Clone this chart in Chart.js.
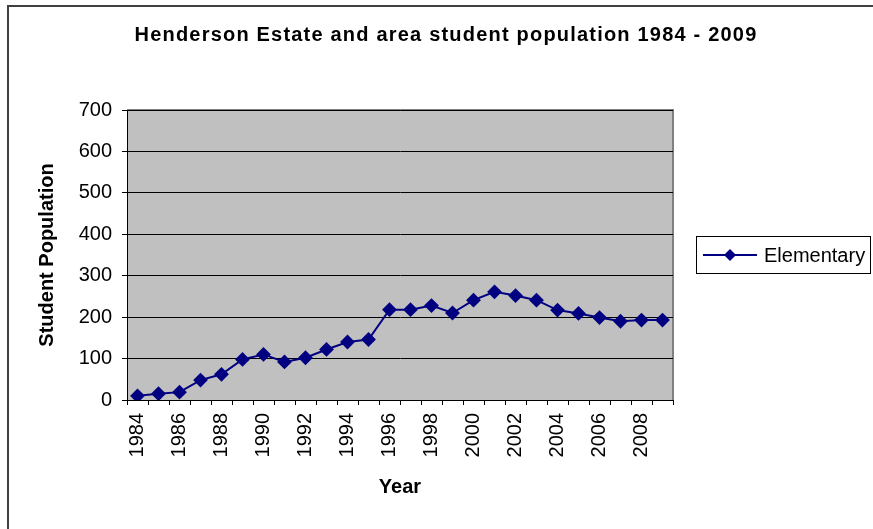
<!DOCTYPE html>
<html>
<head>
<meta charset="utf-8">
<script src="https://cdn.jsdelivr.net/npm/chart.js@4/dist/chart.umd.min.js"></script>
<style>
  html, body { margin: 0; padding: 0; background: #fff; }
  #wrap { width: 873px; height: 529px; position: relative; }
</style>
</head>
<body>
<div id="wrap"><canvas id="popChart" width="873" height="529"></canvas></div>
<script>
const years = ['1984', '1985', '1986', '1987', '1988', '1989', '1990', '1991', '1992', '1993',
  '1994', '1995', '1996', '1997', '1998', '1999', '2000', '2001', '2002', '2003',
  '2004', '2005', '2006', '2007', '2008', '2009'];
const elementary = [10, 15, 19, 48, 62, 98, 110, 92, 102, 122,
  140, 146, 218, 218, 228, 210, 241, 261, 252, 241,
  217, 209, 199, 190, 193, 193];
const yTicks = [0, 100, 200, 300, 400, 500, 600, 700];
const chartTitle = 'Henderson Estate and area student population 1984 - 2009';

const FONT = "'Liberation Sans', Arial, sans-serif";

// grey plot area, outer frame, title and the boxed legend
const frame = {
  id: 'frame',
  beforeDraw(chart) {
    const { ctx, chartArea: a } = chart;
    ctx.save();
    ctx.fillStyle = '#c0c0c0';
    ctx.fillRect(a.left, a.top, a.right - a.left, a.bottom - a.top);
    ctx.strokeStyle = '#808080';
    ctx.lineWidth = 2;
    ctx.beginPath();
    ctx.moveTo(a.left, a.top);
    ctx.lineTo(a.right, a.top);
    ctx.lineTo(a.right, a.bottom);
    ctx.stroke();
    ctx.strokeStyle = '#404040';
    ctx.lineWidth = 2;
    ctx.strokeRect(8, 6, 900, 600);

    // title, a bit spaced out like the original
    ctx.fillStyle = '#000';
    ctx.font = 'bold 20px ' + FONT;
    ctx.letterSpacing = '1.2px';
    ctx.textAlign = 'center';
    ctx.textBaseline = 'middle';
    ctx.fillText(chartTitle, 446, 35);
    ctx.restore();
  },
  afterDraw(chart) {
    const { ctx } = chart;
    const ds = chart.data.datasets[0];
    ctx.save();
    ctx.strokeStyle = '#000';
    ctx.lineWidth = 1;
    ctx.strokeRect(696.5, 236.5, 174, 37);
    const cy = 255;
    ctx.strokeStyle = ds.borderColor;
    ctx.lineWidth = 2;
    ctx.beginPath();
    ctx.moveTo(703, cy);
    ctx.lineTo(757, cy);
    ctx.stroke();
    ctx.fillStyle = ds.pointBackgroundColor;
    ctx.beginPath();
    ctx.moveTo(730, cy - 6);
    ctx.lineTo(736, cy);
    ctx.lineTo(730, cy + 6);
    ctx.lineTo(724, cy);
    ctx.closePath();
    ctx.fill();
    ctx.fillStyle = '#000';
    ctx.font = '20px ' + FONT;
    ctx.textBaseline = 'middle';
    ctx.fillText(ds.label, 764, cy + 1);
    ctx.restore();
  }
};

new Chart(document.getElementById('popChart'), {
  type: 'line',
  data: {
    labels: years,
    datasets: [{
      label: 'Elementary',
      data: elementary,
      borderColor: '#000080',
      backgroundColor: '#000080',
      pointBackgroundColor: '#000080',
      pointBorderColor: '#000080',
      borderWidth: 2,
      pointStyle: 'rectRot',
      pointRadius: 6,
      pointHoverRadius: 6,
      tension: 0
    }]
  },
  options: {
    responsive: false,
    animation: false,
    layout: { padding: { left: 0, right: 200, top: 110, bottom: 0 } },
    plugins: {
      legend: { display: false },
      tooltip: { enabled: false },
      title: { display: false }
    },
    scales: {
      x: {
        type: 'category',
        offset: true,
        grid: {
          offset: true,
          drawOnChartArea: false,
          drawTicks: true,
          tickLength: 5,
          color: '#000'
        },
        border: { color: '#000', width: 1 },
        ticks: {
          autoSkip: false,
          minRotation: 90,
          maxRotation: 90,
          padding: 8,
          color: '#000',
          font: { family: FONT, size: 20 },
          callback(value, index) {
            return index % 2 === 0 ? this.getLabelForValue(value) : '';
          }
        },
        title: {
          display: true,
          text: 'Year',
          color: '#000',
          font: { family: FONT, size: 20, weight: 'bold' },
          padding: { top: 0, bottom: 30 }
        },
        afterFit(scale) { scale.height = 129; }
      },
      y: {
        min: 0,
        max: 700,
        afterBuildTicks(scale) { scale.ticks = yTicks.map(v => ({ value: v })); },
        grid: {
          color: '#000',
          lineWidth: 1,
          tickLength: 5
        },
        border: { color: '#000', width: 1 },
        ticks: {
          padding: 10,
          color: '#000',
          font: { family: FONT, size: 20 }
        },
        title: {
          display: true,
          text: 'Student Population',
          color: '#000',
          font: { family: FONT, size: 20, weight: 'bold' },
          padding: { top: 35, bottom: 0 }
        },
        afterFit(scale) { scale.width = 127; }
      }
    }
  },
  plugins: [frame]
});
</script>
</body>
</html>
